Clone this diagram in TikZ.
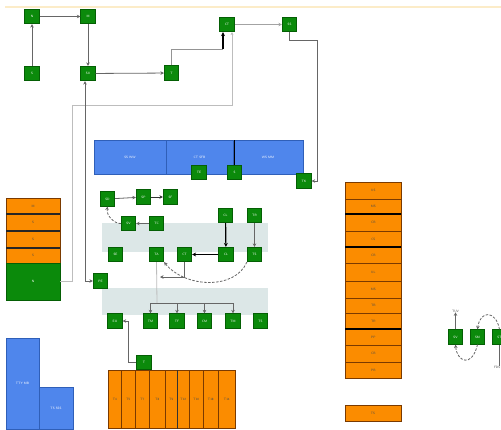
\documentclass[tikz,border=0pt]{standalone}
\usetikzlibrary{arrows.meta}
\definecolor{gn}{HTML}{0B8A0B}
\definecolor{gnd}{HTML}{045F04}
\definecolor{org}{HTML}{FB8C00}
\definecolor{orgd}{HTML}{7A3A00}
\definecolor{blu}{HTML}{4F86EC}
\definecolor{blud}{HTML}{2F5FB8}
\definecolor{band}{HTML}{DCE7E7}
\definecolor{lg}{HTML}{BDBDBD}
\definecolor{mg}{HTML}{666666}
\tikzset{
  gnode/.style={draw=gnd,fill=gn,line width=0.7pt,minimum size=14.5pt,inner sep=0pt,text=white,font=\sffamily\fontsize{3.2}{3.6}\selectfont},
  ocell/.style={draw=orgd,fill=org,line width=0.6pt,inner sep=0pt,text=black!70,font=\sffamily\fontsize{3.2}{3.6}\selectfont},
  bcell/.style={draw=blud,fill=blu,line width=0.4pt,inner sep=0pt,text=white,font=\sffamily\fontsize{3.2}{3.6}\selectfont},
  edge/.style={draw=mg,line width=0.8pt,-{Stealth[length=3.5pt,width=3.5pt]}},
  plain/.style={draw=mg,line width=0.8pt},
  lightedge/.style={draw=lg,line width=0.8pt},
  boldedge/.style={draw=black,line width=1.2pt,-{Stealth[length=4pt,width=4pt]}},
  dashedge/.style={draw=mg,line width=0.8pt,dash pattern=on 2.5pt off 1.5pt,-{Stealth[length=3.5pt,width=3.5pt]}},
  tlabel/.style={inner sep=0pt,font=\sffamily\fontsize{3.2}{3.6}\selectfont,text=black!70}
}
\begin{document}
\begin{tikzpicture}[x=1pt,y=-1pt]
\useasboundingbox (0,0) rectangle (501,429);
\fill[white] (0,0) rectangle (501,429);
\draw[draw={rgb,255:red,252;green,236;blue,200},line width=1.5pt] (5,7) -- (501,7);
% grey bands
\fill[band] (102,223) rectangle (268,252);
\fill[band] (102,288) rectangle (268,315);
% blue bar
\node[bcell,minimum width=72pt,minimum height=34pt] (bl1) at (130,157) {SS WW};
\node[bcell,minimum width=67pt,minimum height=34pt] (bl2) at (199.5,157) {CT SFB};
\node[bcell,minimum width=70pt,minimum height=34pt] (bl3) at (268,157) {WS MM};
% left orange stack
\node[ocell,minimum width=54pt,minimum height=16pt] (lo1) at (33,206) {M};
\node[ocell,minimum width=54pt,minimum height=17pt] (lo2) at (33,222.5) {S};
\node[ocell,minimum width=54pt,minimum height=17pt] (lo3) at (33,239.5) {S};
\node[ocell,minimum width=54pt,minimum height=15pt] (lo4) at (33,255.5) {S};
\foreach \y in {214,231,248}{\draw[black!85,line width=1.1pt] (6,\y) -- (60,\y);}
\node[gnode,minimum width=54pt,minimum height=37pt] (Gb) at (33,281.5) {N};
% left blue bars
\node[bcell,minimum width=33pt,minimum height=91pt] (lb1) at (22.5,383.5) {TTY MB};
\node[bcell,minimum width=34pt,minimum height=42pt] (lb2) at (56,408) {TS SSS};
% bottom orange block
\foreach \a/\b/\t [count=\i] in {108/121/T4,121/135/T5,135/149/T7,149/165/T8,165/177/T9,177/189/T12,189/203/T10,203/218/T18,218/235/T14}{
  \node[ocell,minimum width={\b-\a},minimum height=58pt,anchor=north west] (bo\i) at (\a,370) {\t};
}
\draw[orgd,line width=0.9pt] (108,370) -- (235,370);
\draw[black!80,line width=0.8pt] (177,370) -- (177,429);
% right orange stack
\foreach \a/\b/\t [count=\i] in {182/199/US,199/214/MS,214/231/CB,231/247/CS,247/263/CB,263/281/UL,281/298/MS,298/313/TB,313/329/TR,329/345/PP,345/362/CB,362/378/PB}{
  \node[ocell,minimum width=56pt,minimum height={\b-\a},anchor=north west] (ro\i) at (345,\a) {\t};
}
\foreach \y in {214,247,329}{\draw[black,line width=1.1pt] (345,\y) -- (401,\y);}
\node[ocell,minimum width=56pt,minimum height=16pt] (ro13) at (373,413) {TS};
% top green nodes
\node[gnode] (A1) at (32,16.5) {N};
\node[gnode] (A2) at (88,16.5) {M};
\node[gnode] (A3) at (32,73.5) {S};
\node[gnode] (A4) at (88,73.5) {SU};
\node[gnode] (A5) at (171.5,73) {T};
\node[gnode] (A6) at (227,24.5) {CT};
\node[gnode] (A7) at (289.5,24.5) {SS};
\node[gnode] (G1) at (199,172.5) {TE};
\node[gnode] (G2) at (234.5,172.5) {S};
\node[gnode] (N7) at (304,181) {TK};
% middle
\node[gnode] (B1) at (107.5,199) {SD};
\node[gnode] (B2) at (143.5,197) {SP};
\node[gnode] (B3) at (170.5,197) {SF};
\node[gnode] (B4) at (128.5,223.5) {SV};
\node[gnode] (B5) at (156.5,223.5) {TC};
\node[gnode] (C1) at (225.5,215.5) {CL};
\node[gnode] (C2) at (254.5,215.5) {TR};
\node[gnode] (D1) at (115.5,254.5) {SE};
\node[gnode] (D2) at (156.5,254.5) {TA};
\node[gnode] (D3) at (184.5,254.5) {CT};
\node[gnode] (D4) at (226,254.5) {CL};
\node[gnode] (D5) at (254.5,254.5) {TS};
\node[gnode] (M) at (100.5,281) {PE};
\node[gnode] (E1) at (115,321) {EO};
\node[gnode] (E2) at (150.5,321) {TM};
\node[gnode] (E3) at (177,321) {TF};
\node[gnode] (E4) at (204.5,321) {CM};
\node[gnode] (E5) at (233,321) {TM};
\node[gnode] (E6) at (260.5,321) {TS};
\node[gnode] (F) at (144,362.5) {T};
% right nodes
\node[gnode] (H1) at (455.5,337) {SV};
\node[gnode] (H2) at (477.5,337) {SM};
\node[gnode] (H3) at (499.5,337) {ST};
\node[tlabel] (tuv) at (455.5,311) {TUV};
\node[tlabel,anchor=north east] (fds) at (500.5,366) {FDS};
% coordinates
\coordinate (c1) at (223,49);
\coordinate (c2) at (72,105);
\coordinate (c3) at (232,105);
\coordinate (c4) at (85,281);
\coordinate (c5) at (317,40);
\coordinate (c6) at (160,277);
\coordinate (j) at (157,303);
\coordinate (c7) at (128,362.5);
% top edges
\draw[edge] (A3) -- (A1);
\draw[edge] (A1) -- (A2);
\draw[edge] (A2) -- (A4);
\draw[edge] (A4) -- (A5);
\draw[edge,draw=mg!60] (A6) -- (A7);
\draw[plain,draw=mg!70] (A5.north) |- (c1);
\draw[boldedge] (c1) -- (c1 |- A6.south);
\draw[lightedge,-{Stealth[length=3pt,width=3pt]}] (Gb.east) -| (c2) -- (c3) -- (c3 |- A6.south);
\draw[edge,{Stealth[length=3.5pt,width=3.5pt]}-{Stealth[length=3.5pt,width=3.5pt]}] (M.west) -- (c4) -- (c4 |- A4.south);
\draw[edge] (A7.south) |- (c5) |- (N7.east);
\draw[draw=black,line width=0.9pt] (G2.north) -- (G2.north |- bl2.north);
% middle edges
\draw[edge] (B1) -- (B2);
\draw[edge,draw=black!80] (B2) -- (B3);
\draw[edge] (B5) -- (B4);
\draw[dashedge] (B4.west) .. controls (115,224) and (106,216) .. (B1.south);
\draw[boldedge] (C1) -- (D4);
\draw[edge,line width=0.5pt] (C2) -- (D5);
\draw[boldedge] (D4) -- (D3);
\draw[dashedge] (D5.south west) .. controls (235,290) and (185,288) .. (D2.south east);
\draw[edge] (D3.south) |- (c6);
\draw[plain,draw=lg] (D2.south) -- (j);
\draw[plain] (E2.north |- j) -- (E5.north |- j);
\foreach \e in {E2,E3,E4,E5}{\draw[edge] (\e.north |- j) -- (\e.north);}
\draw[edge] (F.west) -- (c7) |- (E1.east);
% right edges
\draw[edge] (H1) -- (tuv);
\draw[plain] (H3) -- (H3 |- fds.north);
\draw[dashedge] (H2.south) .. controls (472,368) and (457,362) .. (H1.south);
\draw[dashedge] (H3.north) .. controls (496,310) and (480,310) .. (H2.north);
\end{tikzpicture}
\end{document}
